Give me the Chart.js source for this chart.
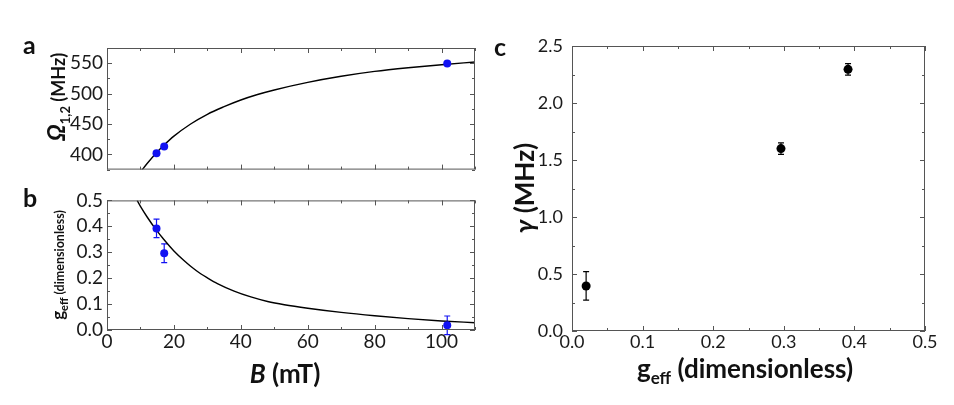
<!DOCTYPE html>
<html>
<head>
<meta charset="utf-8">
<script src="https://cdn.jsdelivr.net/npm/chart.js@4.4.0/dist/chart.umd.min.js"></script>
<style>
  body { margin: 0; background: #fff; }
  #wrap { position: relative; width: 954px; height: 405px; overflow: hidden; font-family: Lato, sans-serif; color: #111; }
  canvas { position: absolute; }
  .lbl { position: absolute; font-weight: bold; white-space: nowrap; line-height: 1; }
  .rot { transform: translate(-50%, -50%) rotate(-90deg); }
  .sub { position: relative; top: 0.35em; }
</style>
</head>
<body>
<div id="wrap">
  <canvas id="chartA" width="480" height="185" style="left:0;top:0"></canvas>
  <canvas id="chartB" width="480" height="175" style="left:0;top:185px"></canvas>
  <canvas id="chartC" width="474" height="360" style="left:480px;top:0"></canvas>

  <div class="lbl" style="left:23px;top:32px;font-size:25px">a</div>
  <div class="lbl" style="left:23px;top:185px;font-size:25px">b</div>
  <div class="lbl" style="left:494px;top:34px;font-size:25px">c</div>

  <div class="lbl rot" style="left:56px;top:97px;font-size:18px"><i style="font-size:24px">Ω</i><span class="sub" style="font-size:13px">1,2</span> (MHz)</div>
  <div class="lbl rot" style="left:58px;top:265px;font-size:12.5px"><span style="font-size:17px">g</span><span class="sub" style="font-size:11px">eff</span> (dimensionless)</div>
  <div class="lbl" style="left:285px;top:360px;font-size:26px;transform:translateX(-50%)"><i>B</i> (mT)</div>

  <div class="lbl rot" style="left:524px;top:188px;font-size:26px"><i>γ</i> (MHz)</div>
  <div class="lbl" style="left:745px;top:355px;font-size:26px;transform:translateX(-50%)">g<span class="sub" style="font-size:17px">eff</span> (dimensionless)</div>
</div>

<script>
// measured points (panels a and b share the field values)
const fieldB = [14.8, 17.1, 101.7];
const omegaPts = [402, 413, 549.5];
const gPts = [0.392, 0.296, 0.018];
const gErr = [0.036, 0.036, 0.036];

// fitted curves
const fitOmegaB = [10, 12, 15, 17, 20, 25, 30, 35, 40, 45, 50, 60, 70, 80, 90, 100, 110];
const fitOmega = [371, 385, 404, 415, 430, 450, 466, 478.5, 489.5, 498.5, 506, 518.5, 528.5, 536.5, 542.5, 547.5, 552];
const fitGB = [9, 10, 12, 14.5, 17, 20, 23, 25, 28, 30, 33, 38, 43, 48, 53, 60, 70, 80, 90, 100, 110];
const fitG = [0.5, 0.477, 0.436, 0.39, 0.349, 0.305, 0.268, 0.246, 0.217, 0.201, 0.179, 0.15, 0.1275, 0.11, 0.0975, 0.084, 0.068, 0.055, 0.044, 0.035, 0.028];

// panel c
const gammaG = [0.020, 0.296, 0.391];
const gammaVals = [0.395, 1.60, 2.295];
const gammaErr = [0.125, 0.05, 0.05];

// tick labels
const fieldTicks = [0, 20, 40, 60, 80, 100];
const omegaTicks = [400, 450, 500, 550];
const gTicks = [0, 0.1, 0.2, 0.3, 0.4, 0.5];
const gammaTicks = [0, 0.5, 1.0, 1.5, 2.0, 2.5];

const blue = '#1212f2';
const tickColor = '#1a1a1a';
const frameColor = '#555';

const pairs = (xs, ys) => xs.map((v, i) => ({ x: v, y: ys[i] }));
const fixTicks = list => s => { s.ticks = list.map(v => ({ value: v })); };

// box around the plot with inward major/minor ticks on all sides
const frameTicks = {
  id: 'frameTicks',
  afterDraw(chart, args, o) {
    const { ctx, chartArea: a } = chart;
    const x = chart.scales.x, y = chart.scales.y;
    ctx.save();
    ctx.strokeStyle = frameColor;
    ctx.lineWidth = 1;
    ctx.strokeRect(a.left + 0.5, a.top + 0.5, a.right - a.left - 1, a.bottom - a.top - 1);
    ctx.beginPath();
    const isMajor = (v, m) => Math.abs(v / m - Math.round(v / m)) < 1e-6;
    for (let v = x.min; v <= x.max + 1e-9; v += o.xMinor) {
      const px = Math.round(x.getPixelForValue(v)) + 0.5;
      const len = isMajor(v, o.xMajor) ? 5 : 3;
      ctx.moveTo(px, a.bottom); ctx.lineTo(px, a.bottom - len);
      ctx.moveTo(px, a.top); ctx.lineTo(px, a.top + len);
    }
    const y0 = Math.ceil(y.min / o.yMinor - 1e-9) * o.yMinor;
    for (let v = y0; v <= y.max + 1e-9; v += o.yMinor) {
      const py = Math.round(y.getPixelForValue(v)) + 0.5;
      const len = isMajor(v, o.yMajor) ? 5 : 3;
      ctx.moveTo(a.left, py); ctx.lineTo(a.left + len, py);
      ctx.moveTo(a.right, py); ctx.lineTo(a.right - len, py);
    }
    ctx.stroke();
    ctx.restore();
  }
};

// vertical error bars with caps under the points of dataset 0
const errorBars = {
  id: 'errorBars',
  beforeDatasetsDraw(chart, args, o) {
    if (!o.errors) return;
    const { ctx } = chart;
    const x = chart.scales.x, y = chart.scales.y;
    const pts = chart.data.datasets[0].data;
    ctx.save();
    ctx.strokeStyle = o.color;
    ctx.lineWidth = 1.2;
    ctx.beginPath();
    pts.forEach((p, i) => {
      const px = x.getPixelForValue(p.x);
      const top = y.getPixelForValue(p.y + o.errors[i]);
      const bot = y.getPixelForValue(p.y - o.errors[i]);
      ctx.moveTo(px, top); ctx.lineTo(px, bot);
      ctx.moveTo(px - 3, top); ctx.lineTo(px + 3, top);
      ctx.moveTo(px - 3, bot); ctx.lineTo(px + 3, bot);
    });
    ctx.stroke();
    ctx.restore();
  }
};

Chart.register(frameTicks, errorBars);

function baseOptions(cfg) {
  const noGrid = { display: false, drawTicks: false, tickLength: 0 };
  return {
    responsive: false,
    animation: false,
    layout: { padding: cfg.padding },
    plugins: {
      legend: { display: false },
      tooltip: { enabled: false },
      frameTicks: cfg.frame,
      errorBars: cfg.errors || {}
    },
    scales: {
      x: {
        type: 'linear',
        min: cfg.xMin, max: cfg.xMax,
        display: cfg.xShow,
        grid: noGrid,
        border: { display: false },
        afterBuildTicks: fixTicks(cfg.xTicks),
        afterFit: s => { s.height = cfg.xHeight; },
        ticks: {
          color: tickColor, padding: cfg.xPad,
          font: { family: 'Lato', size: cfg.fontSize },
          maxRotation: 0,
          callback: cfg.xFmt
        }
      },
      y: {
        type: 'linear',
        min: cfg.yMin, max: cfg.yMax,
        grid: noGrid,
        border: { display: false },
        afterBuildTicks: fixTicks(cfg.yTicks),
        afterFit: s => { s.width = cfg.yWidth; },
        ticks: {
          color: tickColor, padding: cfg.yPad,
          font: { family: 'Lato', size: cfg.fontSize },
          callback: cfg.yFmt
        }
      }
    }
  };
}

const oneDec = v => v.toFixed(1);
const plain = v => String(v);

// panel a
new Chart(document.getElementById('chartA'), {
  type: 'scatter',
  data: {
    datasets: [
      { data: pairs(fieldB, omegaPts), backgroundColor: blue, borderColor: blue, pointRadius: 4, pointBorderWidth: 0 },
      { data: pairs(fitOmegaB, fitOmega), showLine: true, borderColor: '#000', borderWidth: 1.4, pointRadius: 0, cubicInterpolationMode: 'monotone' }
    ]
  },
  options: baseOptions({
    padding: { left: 0, top: 48, right: 5, bottom: 5 },
    xMin: 0, xMax: 110, yMin: 375, yMax: 575,
    xShow: false, xHeight: 0, xTicks: fieldTicks, yTicks: omegaTicks,
    yWidth: 107, xPad: 0, yPad: 4, fontSize: 19,
    xFmt: plain, yFmt: plain,
    frame: { xMinor: 10, xMajor: 20, yMinor: 25, yMajor: 50 }
  })
});

// panel b
new Chart(document.getElementById('chartB'), {
  type: 'scatter',
  data: {
    datasets: [
      { data: pairs(fieldB, gPts), backgroundColor: blue, borderColor: blue, pointRadius: 4, pointBorderWidth: 0 },
      { data: pairs(fitGB, fitG), showLine: true, borderColor: '#000', borderWidth: 1.4, pointRadius: 0, cubicInterpolationMode: 'monotone' }
    ]
  },
  options: baseOptions({
    padding: { left: 0, top: 14, right: 5, bottom: 0 },
    xMin: 0, xMax: 110, yMin: 0, yMax: 0.5,
    xShow: true, xHeight: 30, xTicks: fieldTicks, yTicks: gTicks,
    yWidth: 107, xPad: 0, yPad: 4, fontSize: 19,
    xFmt: plain, yFmt: oneDec,
    frame: { xMinor: 10, xMajor: 20, yMinor: 0.05, yMajor: 0.1 },
    errors: { errors: gErr, color: blue }
  })
});

// panel c
new Chart(document.getElementById('chartC'), {
  type: 'scatter',
  data: {
    datasets: [
      { data: pairs(gammaG, gammaVals), backgroundColor: '#000', borderColor: '#000', pointRadius: 4.5, pointBorderWidth: 0 }
    ]
  },
  options: baseOptions({
    padding: { left: 0, top: 46, right: 29, bottom: 0 },
    xMin: 0, xMax: 0.5, yMin: 0, yMax: 2.5,
    xShow: true, xHeight: 29, xTicks: gTicks, yTicks: gammaTicks,
    yWidth: 92, xPad: 0, yPad: 9, fontSize: 18,
    xFmt: oneDec, yFmt: oneDec,
    frame: { xMinor: 0.05, xMajor: 0.1, yMinor: 0.25, yMajor: 0.5 },
    errors: { errors: gammaErr, color: '#000' }
  })
});
</script>
</body>
</html>
